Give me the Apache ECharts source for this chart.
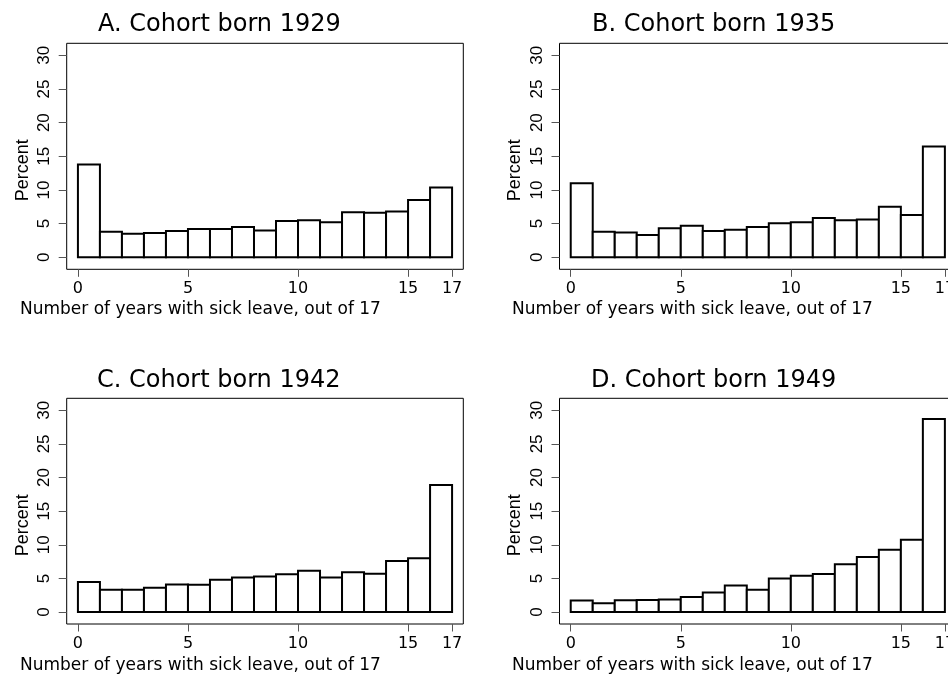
<!DOCTYPE html>
<html>
<head>
<meta charset="utf-8">
<script src="https://cdn.jsdelivr.net/npm/echarts@6/dist/echarts.min.js"></script>
<style>
  html, body { margin: 0; padding: 0; background: #fff; }
  #chart { width: 948px; height: 677px; }
</style>
</head>
<body>
<div id="chart"></div>
<script>
// Bin starts: years with sick leave (bins 0-1, 1-2, ..., 16-17)
const bins = [0,1,2,3,4,5,6,7,8,9,10,11,12,13,14,15,16];
const xTicks = [0, 5, 10, 15, 17];
const yTicks = [0, 5, 10, 15, 20, 25, 30];

const panelTitles = ['A. Cohort born 1929', 'B. Cohort born 1935', 'C. Cohort born 1942', 'D. Cohort born 1949'];
const xTitle = 'Number of years with sick leave, out of 17';
const yTitle = 'Percent';

const cohort1929 = [13.8, 3.8, 3.5, 3.6, 3.9, 4.2, 4.2, 4.5, 4.0, 5.4, 5.5, 5.2, 6.7, 6.6, 6.8, 8.5, 10.35];
const cohort1935 = [11.0, 3.8, 3.7, 3.3, 4.3, 4.7, 3.9, 4.1, 4.5, 5.05, 5.2, 5.85, 5.5, 5.6, 7.5, 6.3, 16.45];
const cohort1942 = [4.45, 3.3, 3.3, 3.6, 4.1, 4.05, 4.8, 5.15, 5.3, 5.6, 6.15, 5.15, 5.9, 5.7, 7.6, 8.0, 18.9];
const cohort1949 = [1.7, 1.3, 1.75, 1.8, 1.85, 2.25, 2.9, 3.95, 3.3, 5.0, 5.4, 5.65, 7.1, 8.2, 9.25, 10.75, 28.7];

const cohorts = [cohort1929, cohort1935, cohort1942, cohort1949];

const grids = [
  { left: 66.7, top: 43.3, width: 396.6, height: 226 },
  { left: 559.5, top: 43.3, width: 396.6, height: 226 },
  { left: 66.7, top: 398.3, width: 396.6, height: 225.7 },
  { left: 559.5, top: 398.3, width: 396.6, height: 225.7 }
];
const titlePos = [
  { left: 98, top: 13 },
  { left: 592, top: 13 },
  { left: 97, top: 368.7 },
  { left: 591, top: 368.7 }
];
const xTitlePos = [
  { left: 20, top: 301.5 },
  { left: 512, top: 301.5 },
  { left: 20, top: 657 },
  { left: 512, top: 657 }
];

const hFont = 'DejaVu Sans';
const rFont = '"Liberation Sans", Arial, sans-serif';

const option = {
  animation: false,
  backgroundColor: '#fff',
  title: [],
  grid: [],
  xAxis: [],
  yAxis: [],
  series: []
};

for (let i = 0; i < 4; i++) {
  option.title.push({
    text: panelTitles[i], left: titlePos[i].left, top: titlePos[i].top, padding: 0,
    textStyle: { fontFamily: hFont, fontSize: 24, fontWeight: 'normal', color: '#000' }
  });
  option.title.push({
    text: xTitle, left: xTitlePos[i].left, top: xTitlePos[i].top, padding: 0,
    textStyle: { fontFamily: hFont, fontSize: 17, fontWeight: 'normal', color: '#000' }
  });
  option.grid.push(Object.assign({
    show: true, borderColor: '#000', borderWidth: 1, backgroundColor: '#fff',
    containLabel: false, outerBoundsMode: 'none'
  }, grids[i]));
  option.xAxis.push({
    type: 'value', gridIndex: i, min: -0.51, max: 17.51, position: 'bottom',
    splitLine: { show: false },
    axisLine: { show: false, onZero: false },
    axisTick: { show: true, inside: false, length: 7.5, lineStyle: { color: '#555', width: 1 }, customValues: xTicks },
    axisLabel: { show: true, margin: 12, fontFamily: hFont, fontSize: 16, color: '#000', customValues: xTicks }
  });
  option.yAxis.push({
    type: 'value', gridIndex: i, min: -1.78, max: 31.78, position: 'left',
    name: yTitle, nameLocation: 'middle', nameGap: 35,
    nameTextStyle: { fontFamily: rFont, fontSize: 18, color: '#000', padding: [0, 28, 0, 0] },
    splitLine: { show: false },
    axisLine: { show: false, onZero: false },
    axisTick: { show: true, inside: false, length: 8, lineStyle: { color: '#555', width: 1 }, customValues: yTicks },
    axisLabel: { show: true, rotate: 90, margin: 14, fontFamily: rFont, fontSize: 17, color: '#000', customValues: yTicks }
  });
  option.series.push({
    type: 'custom',
    xAxisIndex: i, yAxisIndex: i,
    encode: { x: 0, y: 1 },
    data: bins.map((b, k) => [b, cohorts[i][k]]),
    renderItem: function (params, api) {
      const x0 = api.value(0);
      const v = api.value(1);
      const pTop = api.coord([x0, v]);
      const pBot = api.coord([x0 + 1, 0]);
      return {
        type: 'rect',
        shape: { x: pTop[0], y: pTop[1], width: pBot[0] - pTop[0], height: pBot[1] - pTop[1] },
        style: { fill: '#fff', stroke: '#000', lineWidth: 2 }
      };
    }
  });
}

const chart = echarts.init(document.getElementById('chart'), null, { renderer: 'canvas' });
chart.setOption(option);
</script>
</body>
</html>
